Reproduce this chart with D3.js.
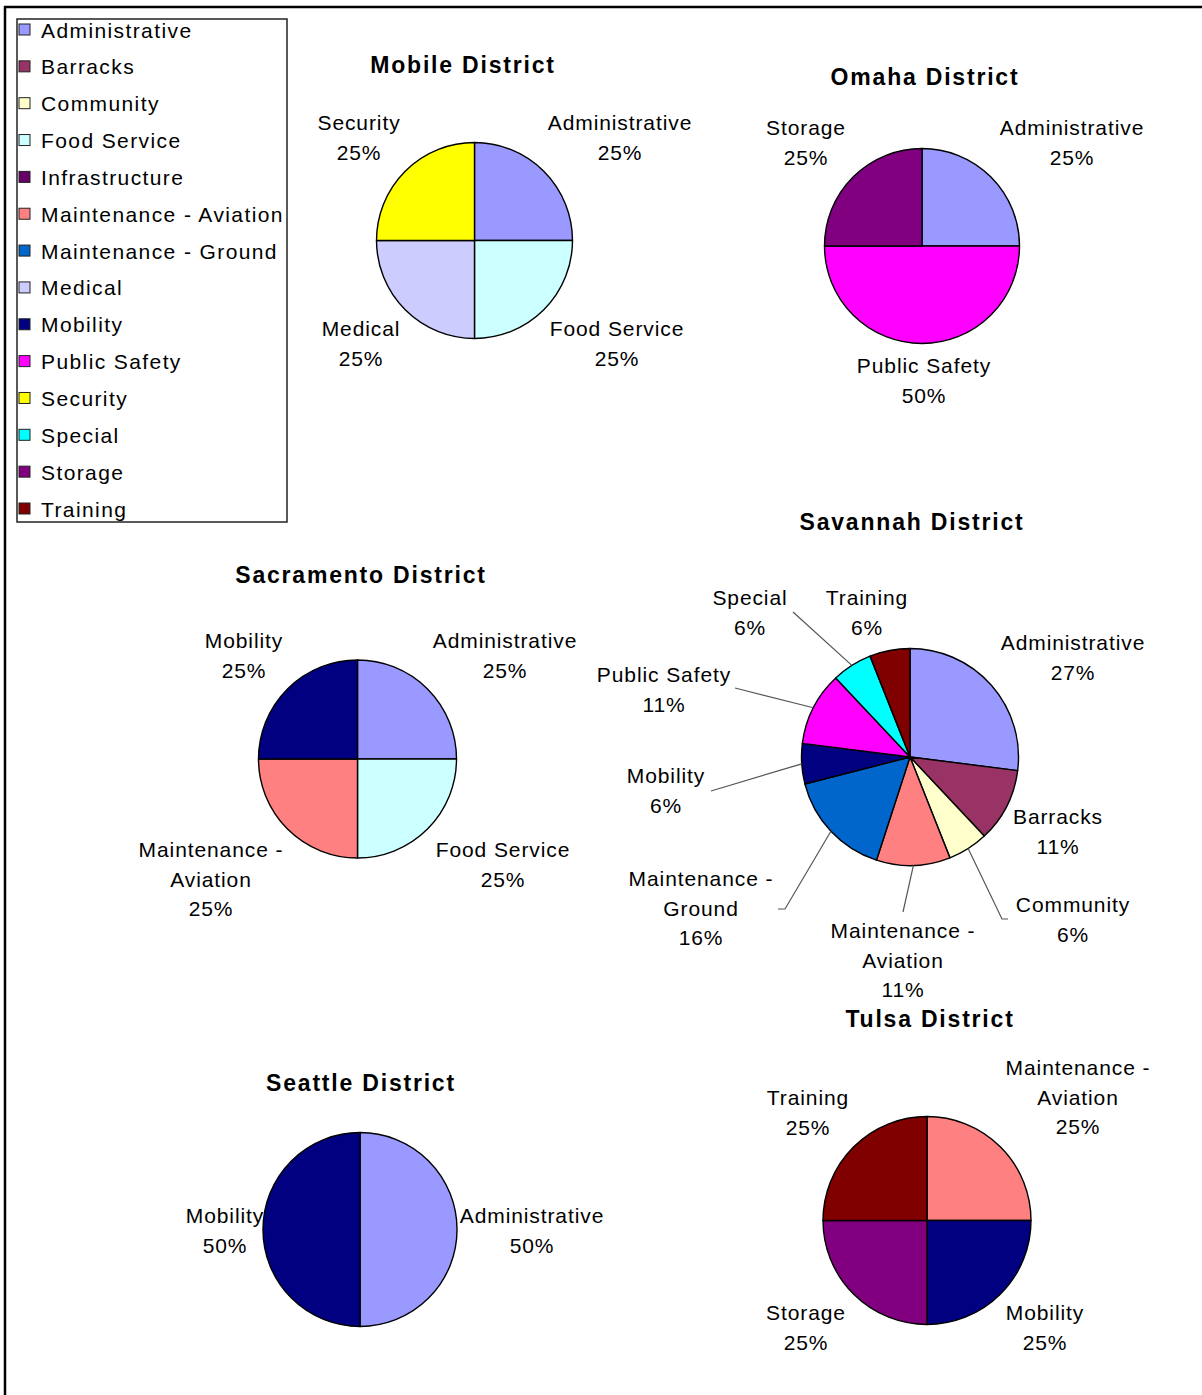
<!DOCTYPE html>
<html>
<head>
<meta charset="utf-8">
<script src="https://cdn.jsdelivr.net/npm/d3@7"></script>
<style>
  html, body { margin: 0; padding: 0; background: #fff; }
  svg { display: block; }
  text { font-family: "Liberation Sans", Arial, sans-serif; fill: #000; }
</style>
</head>
<body>
<svg id="chart" width="1202" height="1395"></svg>
<script>
// ---------- DATA ----------
const categories = ["Administrative", "Barracks", "Community", "Food Service", "Infrastructure",
  "Maintenance - Aviation", "Maintenance - Ground", "Medical", "Mobility", "Public Safety",
  "Security", "Special", "Storage", "Training"];
const categoryColors = ["#9999FF", "#993366", "#FFFFCC", "#CCFFFF", "#660066",
  "#FF8080", "#0066CC", "#CCCCFF", "#000080", "#FF00FF",
  "#FFFF00", "#00FFFF", "#800080", "#800000"];

const districtNames = ["Mobile District", "Omaha District", "Sacramento District",
  "Savannah District", "Seattle District", "Tulsa District"];

const mobileCategories = ["Administrative", "Food Service", "Medical", "Security"];
const mobileValues = [25, 25, 25, 25];

const omahaCategories = ["Administrative", "Public Safety", "Storage"];
const omahaValues = [25, 50, 25];

const sacramentoCategories = ["Administrative", "Food Service", "Maintenance - Aviation", "Mobility"];
const sacramentoValues = [25, 25, 25, 25];

const savannahCategories = ["Administrative", "Barracks", "Community", "Maintenance - Aviation",
  "Maintenance - Ground", "Mobility", "Public Safety", "Special", "Training"];
const savannahValues = [27, 11, 6, 11, 16, 6, 11, 6, 6];

const seattleCategories = ["Administrative", "Mobility"];
const seattleValues = [50, 50];

const tulsaCategories = ["Maintenance - Aviation", "Mobility", "Storage", "Training"];
const tulsaValues = [25, 25, 25, 25];

// ---------- LAYOUT (positions / sizes only) ----------
const layout = [
  { cats: mobileCategories, vals: mobileValues, cx: 474.5, cy: 240.5, r: 98, tx: 463, ty: 73,
    labels: [[620,130],[617,336],[361,336],[359,130]] },
  { cats: omahaCategories, vals: omahaValues, cx: 922, cy: 246, r: 97.5, tx: 925, ty: 85,
    labels: [[1072,135],[924,373],[806,135]] },
  { cats: sacramentoCategories, vals: sacramentoValues, cx: 357.5, cy: 759, r: 99, tx: 361, ty: 583,
    labels: [[505,648],[503,857],[211,857],[244,648]] },
  { cats: savannahCategories, vals: savannahValues, cx: 910, cy: 757, r: 108.5, tx: 912, ty: 530,
    labels: [[1073,650],[1058,824],[1073,912],[903,938],[701,886],[666,783],[664,682],[750,605],[867,605]],
    leaders: { 2: [[1008,919],[1002,919]], 3: [[903,912]], 4: [[778,909],[785,909]],
               5: [[711,791]], 6: [[735,688]], 7: [[793,612]] } },
  { cats: seattleCategories, vals: seattleValues, cx: 360, cy: 1229.5, r: 97, tx: 361, ty: 1091,
    labels: [[532,1223],[225,1223]] },
  { cats: tulsaCategories, vals: tulsaValues, cx: 927, cy: 1220.5, r: 104, tx: 930, ty: 1027,
    labels: [[1078,1075],[1045,1320],[806,1320],[808,1105]] }
];

const color = d3.scaleOrdinal().domain(categories).range(categoryColors);
const svg = d3.select("#chart");

// outer frame (left and top edges visible)
svg.append("line").attr("x1", 5).attr("y1", 6).attr("x2", 5).attr("y2", 1395)
  .attr("stroke", "#000").attr("stroke-width", 2.5);
svg.append("line").attr("x1", 4).attr("y1", 7).attr("x2", 1202).attr("y2", 7)
  .attr("stroke", "#000").attr("stroke-width", 2.5);

// ---------- LEGEND ----------
const legend = svg.append("g");
legend.append("rect").attr("x", 17).attr("y", 19).attr("width", 270).attr("height", 503)
  .attr("fill", "#fff").attr("stroke", "#222").attr("stroke-width", 1.5);
const rowY = d3.scalePoint().domain(categories).range([30, 509]);
const items = legend.selectAll("g.item").data(categories).join("g").attr("class", "item");
items.append("rect").attr("x", 19).attr("y", d => rowY(d) - 6).attr("width", 11).attr("height", 11)
  .attr("fill", d => color(d)).attr("stroke", "#222").attr("stroke-width", 1);
items.append("text").attr("x", 41).attr("y", d => rowY(d) + 7.5)
  .attr("font-size", 21).attr("letter-spacing", 1.4).text(d => d);

// ---------- PIES ----------
const pie = d3.pie().sort(null).value(d => d.value);
const lineH = 29.5;

layout.forEach((L, i) => {
  const data = L.cats.map((c, j) => ({ cat: c, value: L.vals[j] }));
  const arcs = pie(data);
  const total = d3.sum(L.vals);
  const arc = d3.arc().innerRadius(0).outerRadius(L.r);
  const edge = d3.arc().innerRadius(L.r).outerRadius(L.r);
  const g = svg.append("g");

  g.append("text").attr("x", L.tx).attr("y", L.ty).attr("text-anchor", "middle")
    .attr("font-size", 23).attr("font-weight", "bold").attr("letter-spacing", 1.8)
    .text(districtNames[i]);

  const pg = g.append("g").attr("transform", `translate(${L.cx},${L.cy})`);
  pg.selectAll("path").data(arcs).join("path")
    .attr("d", arc).attr("fill", d => color(d.data.cat))
    .attr("stroke", "#000").attr("stroke-width", 1.4).attr("stroke-linejoin", "round");

  // leader lines
  if (L.leaders) {
    Object.entries(L.leaders).forEach(([k, pts]) => {
      const c = edge.centroid(arcs[+k]);
      const all = pts.concat([[L.cx + c[0], L.cy + c[1]]]);
      g.append("path").attr("d", d3.line()(all))
        .attr("fill", "none").attr("stroke", "#555").attr("stroke-width", 1.2);
    });
  }

  // labels
  arcs.forEach((a, j) => {
    const [lx, ly] = L.labels[j];
    const parts = a.data.cat.split(" - ");
    const lines = parts.length > 1 ? [parts[0] + " -", parts[1]] : [parts[0]];
    lines.push(Math.round(a.data.value / total * 100) + "%");
    const t = g.append("text").attr("text-anchor", "middle").attr("font-size", 21)
      .attr("letter-spacing", 0.9);
    lines.forEach((s, n) => {
      t.append("tspan").attr("x", lx).attr("y", ly + n * lineH).text(s);
    });
  });
});
</script>
</body>
</html>
